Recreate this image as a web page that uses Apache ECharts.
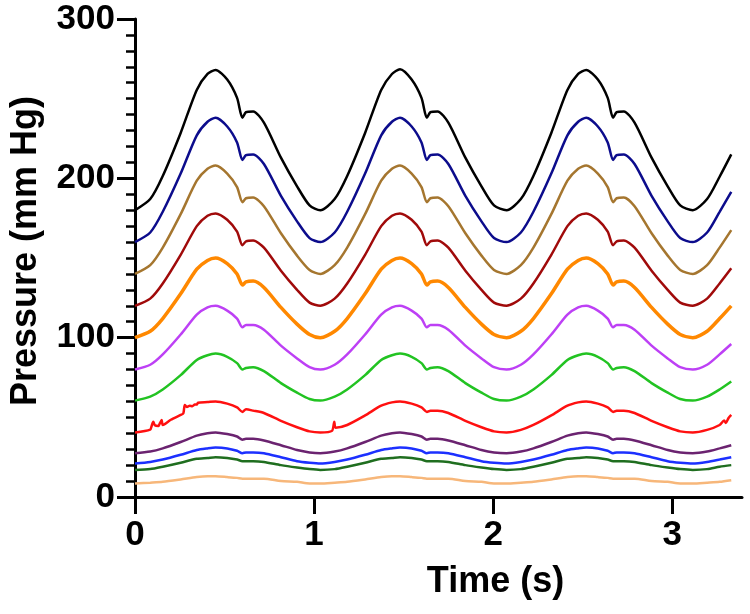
<!DOCTYPE html>
<html>
<head>
<meta charset="utf-8">
<script src="https://cdn.jsdelivr.net/npm/echarts@6/dist/echarts.min.js"></script>
<style>
html,body{margin:0;padding:0;background:#fff;}
#chart{width:750px;height:614px;}
</style>
</head>
<body>
<div id="chart"></div>
<script>
// x values (s) shared by most traces
const time = [
  0, 0.085, 0.155, 0.255, 0.345, 0.405, 0.45, 0.515, 0.57, 0.6, 0.62, 0.66, 0.72, 0.815, 0.905, 0.975,
  1.035, 1.115, 1.185, 1.285, 1.375, 1.435, 1.48, 1.545, 1.6, 1.63, 1.65, 1.69, 1.75, 1.845, 1.935, 2.005,
  2.075, 2.155, 2.225, 2.325, 2.415, 2.475, 2.52, 2.585, 2.64, 2.67, 2.69, 2.73, 2.79, 2.885, 2.975, 3.045,
  3.115, 3.195, 3.265, 3.33
];
const xTicks = [0, 1, 2, 3];
const yTicks = [0, 100, 200, 300];

const blackP = [
  180, 187, 201.5, 228.5, 255.5, 265.5, 268, 262, 250.5, 238, 241.5, 242, 235, 213, 195, 183,
  180, 187, 201.5, 228.5, 255.5, 265.5, 268.5, 262, 250.5, 238, 241.5, 242, 235, 213, 195, 183,
  180, 187, 201.5, 228.5, 255.5, 265.5, 268, 262, 250.5, 238, 241.5, 242, 235, 213, 195, 183,
  180, 187, 201, 215
];
const navyP = [
  160, 166, 179, 203, 227, 235.5, 238, 232.5, 222.5, 211.5, 214.5, 215, 209, 189, 173, 162.5,
  160, 166, 179, 203, 227, 235.5, 238, 232.5, 222.5, 211.5, 214.5, 215, 209, 189, 173, 162.5,
  160, 166, 179, 203, 227, 235.5, 238, 232.5, 222.5, 211.5, 214.5, 215, 209, 189, 173, 162.5,
  160, 166, 179, 191.5
];
const brownP = [
  140, 145.5, 156.5, 177.5, 198.5, 206, 208, 203, 194.5, 185, 187.5, 188, 182.5, 165.5, 151.5, 142.5,
  140, 145.5, 156.5, 177.5, 198.5, 206, 208, 203, 194.5, 185, 187.5, 188, 182.5, 165.5, 151.5, 142.5,
  140, 145.5, 156.5, 177.5, 198.5, 206, 208, 203, 194.5, 185, 187.5, 188, 182.5, 165.5, 151.5, 142.5,
  140, 145.5, 156.5, 167.5
];
const darkRedP = [
  120, 124.5, 134, 152, 170, 176.5, 178, 174, 166.5, 158, 160.5, 161, 156.5, 142, 130, 122,
  120, 124.5, 134, 152, 170, 176.5, 178, 174, 166.5, 158, 160.5, 161, 156.5, 142, 130, 122,
  120, 124.5, 134, 152, 170, 176.5, 178, 174, 166.5, 158, 160.5, 161, 156.5, 142, 130, 122,
  120, 124.5, 134, 143.5
];
const orangeP = [
  100, 104, 112, 127.5, 143, 148.5, 150, 146.5, 140, 133, 135, 135.5, 131.5, 119, 108.5, 102,
  100, 104, 112, 127.5, 143, 148.5, 150, 146.5, 140, 133, 135, 135.5, 131.5, 119, 108.5, 102,
  100, 104, 112, 127.5, 143, 148.5, 150, 146.5, 140, 133, 135, 135.5, 131.5, 119, 108.5, 102,
  100, 104, 112, 120
];
const purpleP = [
  80, 83, 89.5, 102, 114.5, 119, 120, 117, 112, 106.5, 108, 108, 105, 95, 87, 81.5,
  80, 83, 89.5, 102, 114.5, 119, 120, 117, 112, 106.5, 108, 108, 105, 95, 87, 81.5,
  80, 83, 89.5, 102, 114.5, 119, 120, 117, 112, 106.5, 108, 108, 105, 95, 87, 81.5,
  80, 83, 89.5, 96
];
const greenP = [
  60.5, 63, 67.5, 76.5, 86, 89, 90, 88, 84, 80, 81, 81.5, 79, 71.5, 65.5, 61.5,
  60.5, 63, 67.5, 76.5, 86, 89, 90, 88, 84, 80, 81, 81.5, 79, 71.5, 65.5, 61.5,
  60.5, 63, 67.5, 76.5, 86, 89, 90, 88, 84, 80, 81, 81.5, 79, 71.5, 65.5, 61.5,
  60.5, 63, 67.5, 72.5
];
// red trace has its own sample times (it carries spikes)
const redTime = [
  0, 0.085, 0.093, 0.102, 0.111, 0.13, 0.139, 0.149, 0.155, 0.2, 0.255, 0.27, 0.278, 0.29, 0.306, 0.32, 0.334, 0.345, 0.352, 0.405,
  0.45, 0.515, 0.57, 0.6, 0.62, 0.66, 0.72, 0.815, 0.905, 0.975,
  1.035, 1.1, 1.113, 1.12, 1.185, 1.285, 1.375, 1.435, 1.48, 1.545, 1.6, 1.63, 1.65, 1.69, 1.75, 1.845, 1.935, 2.005,
  2.075, 2.155, 2.225, 2.325, 2.415, 2.475, 2.52, 2.585, 2.64, 2.67, 2.69, 2.73, 2.79, 2.885, 2.975, 3.045,
  3.115, 3.195, 3.265, 3.29, 3.3, 3.315, 3.33
];
const redP = [
  40.5, 42.3, 44.6, 47.3, 45, 44.5, 46.3, 48.3, 45.2, 48.5, 51.5, 52.5, 57.8, 56.5, 57.2, 57, 58, 58, 59.2, 59.6,
  60, 58.6, 56.2, 53.4, 55, 54.2, 52.7, 47.8, 43.8, 41.2,
  40.5, 41.5, 47.3, 43.5, 45.2, 51.2, 57.3, 59.4, 60, 58.6, 56.2, 53.4, 54.2, 54.2, 52.7, 47.8, 43.8, 41.2,
  40.5, 42.1, 45.2, 51.2, 57.3, 59.4, 60, 58.6, 56.2, 53.4, 54.2, 54.2, 52.7, 47.8, 43.8, 41.2,
  40.5, 42.1, 45.2, 48, 46.5, 49.6, 51.5
];
const darkPurpleP = [
  27.5, 28.5, 30.5, 34.5, 38.5, 40, 40.5, 39.5, 38, 36, 36.5, 36.5, 35.5, 32.5, 29.5, 28,
  27.5, 28.5, 30.5, 34.5, 38.5, 40, 40.5, 39.5, 38, 36, 36.5, 36.5, 35.5, 32.5, 29.5, 28,
  27.5, 28.5, 30.5, 34.5, 38.5, 40, 40.5, 39.5, 38, 36, 36.5, 36.5, 35.5, 32.5, 29.5, 28,
  27.5, 28.5, 30.5, 32.5
];
const blueP = [
  21, 22, 23.5, 26.5, 29.5, 30.5, 31, 30.5, 29, 27.5, 28, 28, 27.5, 25, 22.5, 21.5,
  21, 22, 23.5, 26.5, 29.5, 30.5, 31, 30.5, 29, 27.5, 28, 28, 27.5, 25, 22.5, 21.5,
  21, 22, 23.5, 26.5, 29.5, 30.5, 31, 30.5, 29, 27.5, 28, 28, 27.5, 25, 22.5, 21.5,
  21, 22, 23.5, 25
];
const darkGreenP = [
  17, 17.5, 19, 21.5, 24, 24.5, 25, 24.5, 23.5, 22.5, 22.5, 22.5, 22, 20, 18.5, 17.5,
  17, 17.5, 19, 21.5, 24, 24.5, 25, 24.5, 23.5, 22.5, 22.5, 22.5, 22, 20, 18.5, 17.5,
  17, 17.5, 19, 21.5, 24, 24.5, 25, 24.5, 23.5, 22.5, 22.5, 22.5, 22, 20, 18.5, 17.5,
  17, 17.5, 19, 20
];
const peachP = [
  8.5, 9, 9.5, 11, 12.5, 13, 13, 12.5, 12, 11.5, 11.5, 11.5, 11.5, 10, 9.5, 8.5,
  8.5, 9, 9.5, 11, 12.5, 13, 13, 12.5, 12, 11.5, 11.5, 11.5, 11.5, 10, 9.5, 8.5,
  8.5, 9, 9.5, 11, 12.5, 13, 13, 12.5, 12, 11.5, 11.5, 11.5, 11.5, 10, 9.5, 8.5,
  8.5, 9, 9.5, 10.5
];

const traces = [
  {name: 'peach', t: time, v: peachP, color: '#f7b77a'},
  {name: 'dark green', t: time, v: darkGreenP, color: '#1f6e1f'},
  {name: 'blue', t: time, v: blueP, color: '#1c30ff'},
  {name: 'dark purple', t: time, v: darkPurpleP, color: '#6b2370'},
  {name: 'red', t: redTime, v: redP, color: '#ff1010'},
  {name: 'green', t: time, v: greenP, color: '#22c322'},
  {name: 'purple', t: time, v: purpleP, color: '#bd40f5'},
  {name: 'orange', t: time, v: orangeP, color: '#ff8800'},
  {name: 'dark red', t: time, v: darkRedP, color: '#a00a0a'},
  {name: 'brown', t: time, v: brownP, color: '#a5762f'},
  {name: 'navy', t: time, v: navyP, color: '#0c0c8c'},
  {name: 'black', t: time, v: blackP, color: '#000000'}
];

const FONT = '"Liberation Sans", Arial, sans-serif';
const chart = echarts.init(document.getElementById('chart'), null, {renderer: 'canvas'});
chart.setOption({
  animation: false,
  backgroundColor: '#ffffff',
  grid: {left: 135, right: 8, top: 19, bottom: 117, containLabel: false, outerBoundsMode: 'none'},
  xAxis: {
    type: 'value', min: 0, max: 3.39, interval: 1,
    name: 'Time (s)', nameLocation: 'middle', nameGap: 67,
    nameTextStyle: {fontSize: 36, fontWeight: 'bold', color: '#000', fontFamily: FONT, padding: [0, 0, 0, 114]},
    axisLine: {show: true, onZero: false, lineStyle: {color: '#000', width: 3}},
    axisTick: {show: true, length: 17, lineStyle: {color: '#000', width: 3}, customValues: xTicks},
    axisLabel: {fontSize: 35, fontWeight: 'bold', color: '#000', fontFamily: FONT, margin: 21, customValues: xTicks},
    splitLine: {show: false}
  },
  yAxis: {
    type: 'value', min: 0, max: 300, interval: 100,
    name: 'Pressure (mm Hg)', nameLocation: 'middle', nameGap: 91,
    nameTextStyle: {fontSize: 36, fontWeight: 'bold', color: '#000', fontFamily: FONT, padding: [0, 0, 0, 14]},
    axisLine: {show: true, lineStyle: {color: '#000', width: 3}},
    axisTick: {show: true, length: 18, lineStyle: {color: '#000', width: 3}, customValues: yTicks},
    minorTick: {show: true, splitNumber: 10, length: 9, lineStyle: {color: '#000', width: 2.5}},
    axisLabel: {fontSize: 35, fontWeight: 'bold', color: '#000', fontFamily: FONT, margin: 20, customValues: yTicks},
    splitLine: {show: false},
    minorSplitLine: {show: false}
  },
  series: traces.map(tr => ({
    name: tr.name,
    type: 'line',
    data: tr.t.map((x, i) => [x, tr.v[i]]),
    showSymbol: false,
    smooth: 0.25,
    clip: false,
    lineStyle: {color: tr.color, width: tr.name === 'orange' ? 3.5 : 2.5},
    itemStyle: {color: tr.color}
  }))
});
</script>
</body>
</html>
